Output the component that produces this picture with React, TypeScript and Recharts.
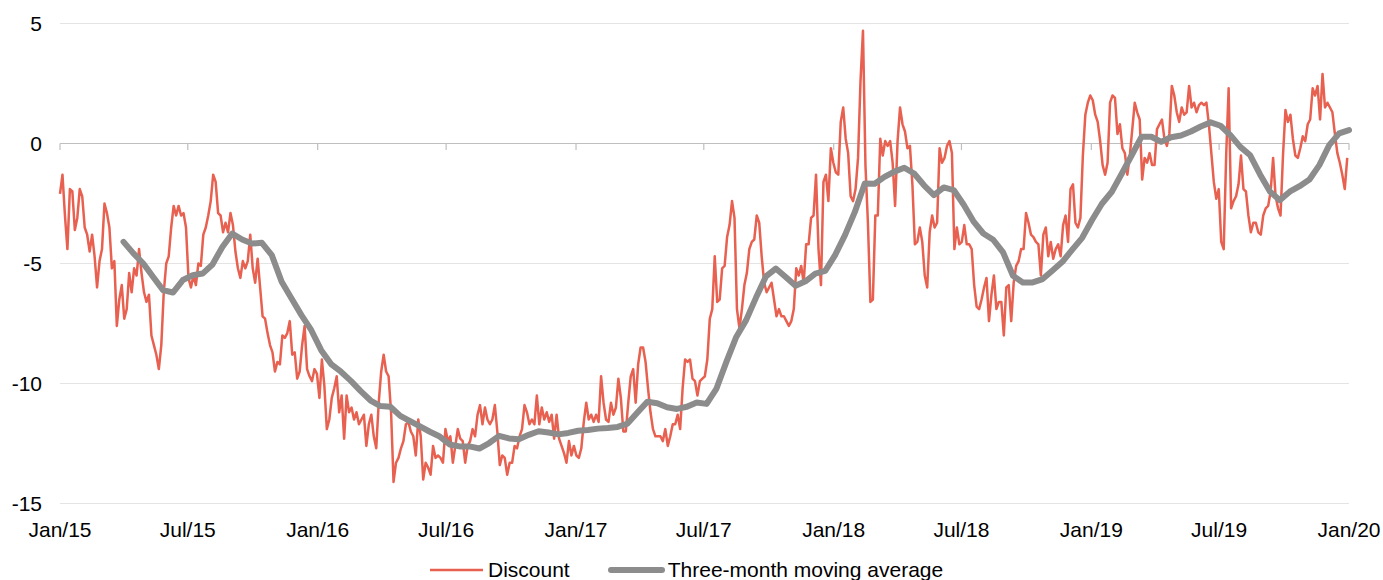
import React from 'react';
import {
  LineChart,
  Line,
  XAxis,
  YAxis,
  CartesianGrid,
  ReferenceLine,
  Legend,
} from 'recharts';

// Discount values, sampled twice a week from 1 Jan 2015
const discount2015 = [
  -2.1, -1.3, -3.0, -4.4, -1.9, -2.0, -3.6, -3.1, -1.9, -2.2,
  -3.5, -3.8, -4.5, -3.8, -4.7, -6.0, -4.9, -4.4, -2.5, -2.9,
  -3.5, -5.2, -4.9, -7.6, -6.5, -5.9, -7.3, -6.9, -5.4, -6.2,
  -5.2, -5.5, -4.4, -5.4, -6.2, -6.6, -6.3, -8.0, -8.4, -8.8,
  -9.4, -8.4, -6.2, -5.0, -4.7, -3.5, -2.6, -3.0, -2.6, -3.0,
  -2.9, -3.5, -5.6, -6.0, -5.5, -5.9, -5.0, -5.1, -3.8, -3.5,
  -3.0, -2.4, -1.3, -1.6, -2.9, -3.0, -3.7, -3.3, -3.7, -2.9,
  -3.4, -4.5, -5.2, -5.6, -4.9, -5.2, -4.9, -3.8, -5.2, -5.8,
  -4.8, -6.0, -7.2, -7.3, -7.9, -8.4, -8.7, -9.5, -9.1, -9.2,
  -8.0, -8.1, -7.9, -7.4, -8.8, -8.7, -9.8, -9.5, -8.4, -7.6,
  -9.4, -9.7, -9.9, -9.4, -9.6,
];
const discount2016 = [
  -10.6, -9.0, -10.1, -11.9, -11.5,
  -10.6, -10.2, -9.7, -11.2, -10.5, -12.3, -10.5, -11.2, -11.0, -11.5,
  -11.2, -11.7, -11.5, -11.3, -12.6, -11.7, -11.3, -12.2, -12.7, -10.8,
  -9.5, -8.8, -9.5, -9.7, -11.2, -14.1, -13.3, -13.1, -12.7, -12.4,
  -11.7, -11.6, -12.0, -12.2, -13.0, -11.5, -12.2, -14.0, -13.3, -13.5,
  -13.8, -12.6, -13.1, -13.0, -13.1, -13.3, -11.9, -12.4, -12.2, -13.3,
  -12.6, -11.9, -12.3, -12.4, -13.3, -12.6, -12.4, -11.9, -12.2, -11.3,
  -10.9, -11.7, -11.0, -11.5, -11.7, -11.5, -10.9, -12.0, -13.4, -13.0,
  -13.1, -13.8, -13.3, -13.3, -12.6, -12.7, -12.2, -11.9, -10.9, -11.2,
  -11.7, -11.5, -11.7, -10.5, -11.7, -11.0, -11.5, -11.2, -11.6, -11.3,
  -12.3, -11.3, -12.3, -12.6, -12.9, -13.3, -12.4, -13.0, -12.6,
];
const discount2017 = [
  -13.0, -13.1, -12.7, -11.6, -10.8, -11.5, -11.3, -11.6, -11.3, -11.6, -9.7,
  -10.8, -11.5, -11.6, -10.8, -11.3, -11.0, -9.8, -10.6, -12.0, -12.0,
  -10.8, -9.7, -9.4, -10.8, -9.2, -8.5, -8.5, -9.1, -10.2, -11.2,
  -11.9, -12.2, -12.2, -12.2, -12.4, -11.9, -12.6, -12.2, -11.7, -11.7,
  -11.3, -11.9, -10.2, -9.0, -9.1, -9.0, -9.8, -9.9, -10.5, -9.9,
  -9.8, -9.7,
  -9.0, -7.3, -6.9, -4.7, -6.6, -6.5, -5.2, -5.1,
  -3.9, -3.4, -2.4, -3.1, -6.9, -7.7, -6.9, -5.9, -5.4, -4.4,
  -4.1, -4.0, -3.0, -3.3, -4.7, -5.8, -6.2, -6.0, -5.8, -6.5,
  -7.2, -6.9, -7.2, -7.2, -7.4, -7.6, -7.4, -6.9, -5.2, -5.5,
  -5.1, -5.8, -4.2, -4.2, -3.1, -3.0, -1.3, -4.4, -5.9, -1.6,
  -1.3, -2.4, -0.2, -0.8,
];
const discount2018 = [
  -1.2, -1.3, 0.9, 1.5, 0.2, -0.4,
  -2.2, -2.4, -1.9, -0.6, 2.6, 4.7, -0.9, -3.3, -6.6, -6.5,
  -3.0, -3.0, 0.2, -0.5, 0.1, -0.1, 0.1, -0.8, -2.6, 0.1,
  1.5, 0.8, 0.5, -0.2, -0.1, -1.7, -4.2, -4.1, -3.5,
  -4.1, -5.5, -6.0, -3.7, -3.0, -3.5, -3.3, -0.2, -0.8, -0.6, -0.1,
  0.1, -0.4, -4.4, -3.5, -4.2, -4.1, -3.4, -4.2, -4.2, -4.4,
  -5.9, -6.8, -6.9, -6.5, -6.0, -5.6, -7.4, -6.3, -5.5, -6.9,
  -6.6, -6.6, -8.0, -6.0, -5.9, -7.4, -5.8, -5.1, -4.9, -4.4,
  -4.4, -2.9, -3.3, -3.8, -3.9, -4.1, -4.2, -5.5, -3.8, -3.5,
  -4.7, -4.1, -4.8, -4.4, -4.2, -4.7, -3.4, -3.0, -4.1, -1.9,
  -1.7, -3.3, -3.5, -3.1, -0.5, 1.2, 1.7, 2.0,
];
const discount2019 = [
  1.8, 1.2,
  0.9, 0.1, -0.9, -1.3, -0.8, 1.7, 2.0, 1.9, 0.4, 0.8,
  -0.2, -0.4, -1.3, -0.5, 0.6, 1.7,
  1.3, 1.0, -1.5, -0.6,
  -0.8, -0.4, -0.9, -0.9, 0.6, 0.8, 1.0, 0.2, -0.1, 0.4,
  2.4, 2.0, 1.3, 0.9, 1.5, 1.2, 1.3, 2.4, 1.5, 1.7,
  1.3, 1.6, 1.7, 1.6, 1.7, 0.8, -0.4, -1.6, -2.3, -1.9,
  -4.1, -4.4, -0.5, 2.3, -2.7, -2.4, -2.2, -1.7, -0.5, -1.9,
  -2.0, -3.0, -3.7, -3.3, -3.3, -3.7, -3.8, -3.0, -2.7, -2.6,
  -2.0, -0.6, -2.2, -2.7, -3.0, -0.5, 1.4, 0.9, 1.2, 0.2,
  -0.5, -0.6, -0.2, 0.3, 0.1, 0.8, 1.0, 2.3, 2.0, 2.4,
  1.0, 2.9, 1.5, 1.7, 1.5, 1.3, 0.4, -0.4, -0.8, -1.3,
  -1.9, -0.6,
];

// Three-month moving average, every two weeks from 1 Apr 2015
const movingAverage = [
  -4.1, -4.58, -5.0, -5.56, -6.11, -6.21, -5.69, -5.49, -5.42, -5.04,
  -4.31, -3.75, -4.0, -4.17, -4.14, -4.65, -5.76, -6.46, -7.15, -7.78,
  -8.61, -9.19, -9.51, -9.89, -10.32, -10.71, -10.94, -10.97, -11.35, -11.57,
  -11.79, -12.01, -12.21, -12.54, -12.62, -12.62, -12.71, -12.48, -12.18, -12.29,
  -12.32, -12.14, -11.99, -12.04, -12.12, -12.06, -11.97, -11.94, -11.88, -11.85,
  -11.81, -11.67, -11.21, -10.76, -10.82, -10.99, -11.06, -10.97, -10.79, -10.85,
  -10.21, -9.1, -8.06, -7.36, -6.42, -5.54, -5.21, -5.56, -5.93, -5.74,
  -5.42, -5.31, -4.65, -3.82, -2.85, -1.67, -1.68, -1.39, -1.17, -1.01,
  -1.25, -1.74, -2.15, -1.83, -1.94, -2.54, -3.24, -3.75, -4.01, -4.54,
  -5.51, -5.79, -5.79, -5.65, -5.29, -4.93, -4.42, -3.93, -3.19, -2.51,
  -2.01, -1.26, -0.5, 0.28, 0.28, 0.07, 0.26, 0.33, 0.5, 0.71,
  0.88, 0.74, 0.35, -0.14, -0.49, -1.29, -2.0, -2.36, -2.01, -1.78,
  -1.5, -0.9, -0.07, 0.42, 0.56,
];

const tickDates = [
  '2015-01-01', '2015-07-01', '2016-01-01', '2016-07-01', '2017-01-01', '2017-07-01',
  '2018-01-01', '2018-07-01', '2019-01-01', '2019-07-01', '2020-01-01',
];
const tickLabels = [
  'Jan/15', 'Jul/15', 'Jan/16', 'Jul/16', 'Jan/17', 'Jul/17',
  'Jan/18', 'Jul/18', 'Jan/19', 'Jul/19', 'Jan/20',
];
const yTicks = [-15, -10, -5, 0, 5];

const DAY_MS = 86400000;
const START = Date.parse('2015-01-01');
const toDay = (iso: string) => Math.round((Date.parse(iso) - START) / DAY_MS);

const DISCOUNT_STEP = 3.5; // days
const MA_START = toDay('2015-04-01');
const MA_STEP = 14; // days

const discountData = [
  ...discount2015,
  ...discount2016,
  ...discount2017,
  ...discount2018,
  ...discount2019,
].map((value, i) => ({ day: i * DISCOUNT_STEP, value }));

const maData = movingAverage.map((value, i) => ({ day: MA_START + i * MA_STEP, value }));

const tickDays = tickDates.map(toDay);
const labelByDay: Record<number, string> = {};
tickDays.forEach((d, i) => {
  labelByDay[d] = tickLabels[i];
});

const RED = '#E8604F';
const GRAY = '#8C8C8C';
const FONT = '"Liberation Sans", Arial, sans-serif';

const renderLegend = () => (
  <div
    style={{
      display: 'flex',
      alignItems: 'center',
      paddingLeft: 430,
      height: 28,
      lineHeight: '28px',
      fontFamily: FONT,
      fontSize: 21,
      color: '#000',
      whiteSpace: 'nowrap',
    }}
  >
    <svg width={53} height={10}>
      <line x1={0} y1={5} x2={53} y2={5} stroke={RED} strokeWidth={2.5} />
    </svg>
    <span style={{ marginLeft: 5 }}>Discount</span>
    <svg width={57} height={10} style={{ marginLeft: 38 }}>
      <line x1={3} y1={5} x2={54} y2={5} stroke={GRAY} strokeWidth={6} strokeLinecap="round" />
    </svg>
    <span style={{ marginLeft: 3 }}>Three-month moving average</span>
  </div>
);

export default function App() {
  return (
    <div style={{ position: 'absolute', left: 0, top: 0, background: '#fff' }}>
      <LineChart
        width={1383}
        height={580}
        margin={{ top: 23.5, right: 34, bottom: 0, left: 0 }}
      >
        <CartesianGrid horizontal vertical={false} stroke="#E4E4E4" />
        <XAxis
          dataKey="day"
          type="number"
          domain={[0, tickDays[tickDays.length - 1]]}
          ticks={tickDays}
          interval={0}
          tickFormatter={(d: number) => labelByDay[d] ?? ''}
          axisLine={false}
          tickLine={false}
          tickSize={0}
          tickMargin={18.5}
          height={76.5}
          tick={{ fill: '#000', fontSize: 21, fontFamily: FONT }}
        />
        <YAxis
          type="number"
          domain={[-15, 5]}
          ticks={yTicks}
          interval={0}
          axisLine={false}
          tickLine={false}
          tickSize={0}
          tickMargin={18}
          width={60}
          tick={{ fill: '#000', fontSize: 21, fontFamily: FONT }}
        />
        <ReferenceLine y={0} stroke="#BFBFBF" strokeWidth={1.2} />
        {tickDays.map((d) => (
          <ReferenceLine
            key={d}
            segment={[
              { x: d, y: 0 },
              { x: d, y: -0.27 },
            ]}
            stroke="#BFBFBF"
            strokeWidth={1.2}
          />
        ))}
        <Line
          data={discountData}
          dataKey="value"
          name="Discount"
          type="linear"
          stroke={RED}
          strokeWidth={2.5}
          strokeLinejoin="round"
          dot={false}
          activeDot={false}
          isAnimationActive={false}
        />
        <Line
          data={maData}
          dataKey="value"
          name="Three-month moving average"
          type="linear"
          stroke={GRAY}
          strokeWidth={6}
          strokeLinecap="round"
          strokeLinejoin="round"
          dot={false}
          activeDot={false}
          isAnimationActive={false}
        />
        <Legend
          layout="horizontal"
          verticalAlign="middle"
          align="center"
          content={renderLegend}
          wrapperStyle={{ top: 556, left: 0, width: 1383, height: 28 }}
        />
      </LineChart>
    </div>
  );
}
